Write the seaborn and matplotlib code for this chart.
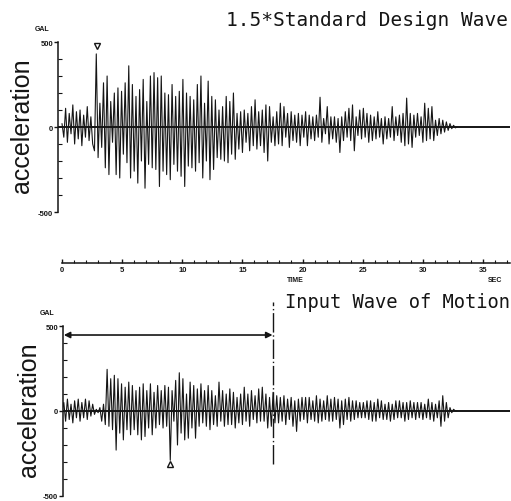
import numpy as np
import pandas as pd
import matplotlib
matplotlib.use("Agg")
import matplotlib.pyplot as plt
import seaborn as sns

# sampling step of the digitised records (s)
dt = 0.15

# 1.5 * standard design wave, gal (rows of 1.5 s)
design_wave = [
    20, -60, 110, -90, 80, -40, 130, -100, 90, -70,
    100, -110, 70, -60, 120, -80, 60, -100, -140, 430,
    -180, 140, -120, 260, -240, 300, -280, 150, -90, 200,
    -280, 230, -300, 210, -160, 260, -210, 360, -300, 250,
    -260, 180, -330, 220, -200, 280, -360, 150, -220, 300,
    -240, 320, -250, 290, -350, 300, -260, 200, -280, 190,
    -310, 250, -220, 180, -260, 210, -290, 280, -350, 200,
    -230, 180, -240, 160, -260, 250, -210, 300, -300, 140,
    -200, 270, -310, 180, -250, 160, -180, 100, -190, 120,
    -200, 180, -210, 150, -160, 200, -190, 80, -130, 90,
    -150, 100, -90, 80, -140, 120, -110, 160, -130, 90,
    -110, 100, -150, 130, -200, 120, -90, 60, -110, 90,
    -100, 140, -110, 120, -60, 80, -120, 90, -80, 70,
    -90, 80, -110, 70, -60, 90, -110, 70, -70, 60,
    -80, 70, -60, 175, -90, 50, -40, 120, -100, 60,
    -70, 60, -90, 50, -150, 60, -80, 90, -60, 110,
    -80, 130, -140, 60, -50, 100, -70, 110, -60, 80,
    -90, 70, -80, 60, -70, 90, -60, 50, -100, 60,
    -70, 50, -60, 120, -80, 60, -50, 70, -90, 80,
    -110, 170, -100, 80, -120, 70, -60, 80, -50, 60,
    -90, 140, -80, 110, -70, 120, -80, 40, -50, 50,
    -40, 40, -30, 30, -20, 20, -10, 10, -5, 0,
]

# input wave of motion, gal (rows of 1.5 s)
input_wave = [
    0, 50, -60, 70, -50, 40, -70, 60, -40, 70,
    -60, 50, -40, 70, -50, 60, -30, 40, -20, 10,
    -10, 20, -60, 40, -80, 245, -90, 190, -110, 210,
    -230, 190, -130, 160, -170, 140, -110, 170, -140, 150,
    -110, 120, -140, 140, -170, 160, -150, 120, -100, 160,
    -140, 110, -100, 150, -80, 120, -100, 150, -90, 140,
    -290, 120, -60, 180, -200, 225, -130, 190, -170, 100,
    -160, 170, -100, 150, -160, 130, -90, 160, -70, 120,
    -90, 150, -110, 120, -80, 90, -90, 170, -60, 120,
    -90, 100, -80, 130, -80, 110, -100, 80, -70, 100,
    -80, 140, -60, 100, -90, 120, -50, 90, -70, 130,
    -60, 140, -60, 100, -100, 80, -90, 110, -70, 90,
    -70, 80, -60, 90, -80, 70, -50, 80, -90, 60,
    -120, 70, -60, 80, -50, 80, -70, 80, -50, 60,
    -60, 90, -70, 70, -60, 60, -50, 90, -60, 70,
    -60, 80, -50, 70, -100, 60, -80, 70, -50, 80,
    -60, 60, -50, 60, -40, 50, -40, 50, -40, 60,
    -50, 60, -60, 50, -60, 70, -40, 60, -50, 40,
    -50, 50, -60, 40, -50, 60, -40, 60, -40, 50,
    -60, 50, -50, 60, -40, 50, -50, 50, -40, 50,
    -50, 40, -40, 70, -50, 50, -60, 40, -40, 60,
    -90, 90, -60, 50, -40, 20, -10, 10, 0, 0,
]

time_ticks = [0, 5, 10, 15, 20, 25, 30, 35]
peak_design = (2.9, 476)
peak_input = (9.0, -312)
window_end = 17.5

design_df = pd.DataFrame({"t": np.arange(len(design_wave)) * dt, "acc": design_wave})
input_df = pd.DataFrame({"t": np.arange(len(input_wave)) * dt, "acc": input_wave})

sns.set_style("white")
plt.rcParams["font.family"] = ["Liberation Sans", "DejaVu Sans"]

W, H = 511, 502
fig = plt.figure(figsize=(W / 100, H / 100), dpi=100)


def box(x0, y0, x1, y1):
    # pixel box (top-left origin) -> figure fraction rect
    return [x0 / W, 1 - y1 / H, (x1 - x0) / W, (y1 - y0) / H]


def t_at(px):
    return (px - 62) / 12.03


ink = "#151515"


def wave_axes(rect, df, left_px):
    ax = fig.add_axes(rect)
    sns.lineplot(data=df, x="t", y="acc", ax=ax, color=ink, lw=0.8,
                 estimator=None, sort=False)
    ax.axhline(0, color=ink, lw=1.4)
    ax.set_xlim(t_at(left_px), t_at(510))
    ax.set_ylim(-500, 500)
    for s in ["top", "right", "bottom"]:
        ax.spines[s].set_visible(False)
    ax.spines["left"].set_color(ink)
    ax.spines["left"].set_linewidth(1.1)
    ax.set_xticks([])
    ax.set_yticks([-500, 0, 500])
    ax.set_yticklabels(["-500", "0", "500"], fontsize=5.5, fontweight="bold")
    ax.set_yticks(np.arange(-400, 500, 100), minor=True)
    ax.tick_params(axis="y", which="major", direction="out", length=3, width=1,
                   pad=0.5, colors=ink, left=True)
    ax.tick_params(axis="y", which="minor", direction="in", length=3, width=0.8,
                   colors=ink, left=True)
    ax.set_xlabel("")
    ax.set_ylabel("")
    ax.text(-0.035, 1.06, "GAL", transform=ax.transAxes, fontsize=5,
            fontweight="bold", ha="center", va="bottom", color=ink)
    return ax


ax1 = wave_axes(box(58, 43, 510, 213), design_df, 58)
ax1.plot([peak_design[0]], [peak_design[1]], marker="v", ms=5, mfc="white",
         mec=ink, mew=1, clip_on=False)

ax2 = wave_axes(box(63, 327, 510, 497), input_df, 63)
ax2.plot([peak_input[0]], [peak_input[1]], marker="^", ms=5, mfc="white",
         mec=ink, mew=1, clip_on=False)
ax2.annotate("", xy=(0.15, 447), xytext=(window_end, 447),
             arrowprops=dict(arrowstyle="<|-|>", color=ink, lw=1.2,
                             mutation_scale=9, shrinkA=0, shrinkB=0))
ax2.plot([window_end, window_end], [-312, 641], color=ink, lw=1.0,
         ls=(0, (14, 2, 1, 2)), clip_on=False)

# time axis between the panels
axt = fig.add_axes(box(58, 263, 510, 264))
axt.set_xlim(t_at(58), t_at(510))
axt.set_ylim(0, 1)
for s in ["top", "right", "left"]:
    axt.spines[s].set_visible(False)
axt.spines["bottom"].set_bounds(0, t_at(510))
axt.spines["bottom"].set_color(ink)
axt.spines["bottom"].set_linewidth(1.1)
axt.set_yticks([])
axt.set_xticks(time_ticks)
axt.set_xticklabels([str(v) for v in time_ticks], fontsize=5.5, fontweight="bold")
axt.set_xticks(np.arange(0, 38, 1), minor=True)
axt.tick_params(axis="x", which="major", direction="in", length=3, width=1,
                pad=2, colors=ink, bottom=True)
axt.tick_params(axis="x", which="minor", direction="in", length=2, width=0.8,
                colors=ink, bottom=True)
fig.text(295 / W, 1 - 281 / H, "TIME", fontsize=5, fontweight="bold",
         ha="center", va="center", color=ink)
fig.text(495 / W, 1 - 281 / H, "SEC", fontsize=5, fontweight="bold",
         ha="center", va="center", color=ink)

# titles and axis names
fig.text(508 / W, 1 - 20 / H, "1.5*Standard Design Wave",
         family="DejaVu Sans Mono", fontsize=14, ha="right", va="center", color=ink)
fig.text(510 / W, 1 - 303 / H, "Input Wave of Motion",
         family="DejaVu Sans Mono", fontsize=13.5, ha="right", va="center", color=ink)
fig.text(22 / W, 1 - 126 / H, "acceleration", rotation=90, fontsize=18,
         ha="center", va="center", color=ink)
fig.text(29 / W, 1 - 410 / H, "acceleration", rotation=90, fontsize=18,
         ha="center", va="center", color=ink)

fig.savefig("out.png", dpi=100, facecolor="white")
